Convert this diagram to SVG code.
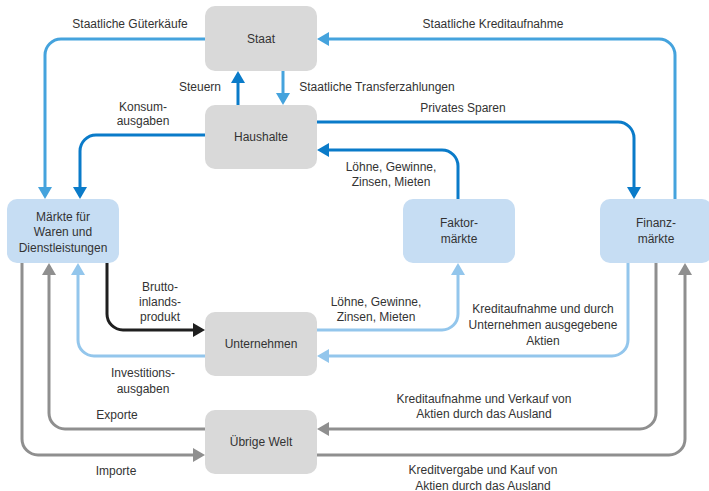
<svg xmlns="http://www.w3.org/2000/svg" width="709" height="491" viewBox="0 0 709 491">
<style>
text{font-family:"Liberation Sans",Arial,sans-serif;font-size:12px;fill:#333;text-anchor:middle}
.g{fill:#d9d9d9}
.b{fill:#c6ddf3}
.c{fill:none;stroke-width:3}
.lb{stroke:#45a3dd}
.db{stroke:#0a7bc9}
.pb{stroke:#93c6ec}
.gr{stroke:#8f8f8f}
.bk{stroke:#1f1f1f}
</style>
<defs>
<marker id="mlb" viewBox="0 0 12 14" markerWidth="12" markerHeight="14" refX="9" refY="7" orient="auto" markerUnits="userSpaceOnUse"><path d="M0,0L12,7L0,14z" fill="#45a3dd"/></marker>
<marker id="mdb" viewBox="0 0 12 14" markerWidth="12" markerHeight="14" refX="9" refY="7" orient="auto" markerUnits="userSpaceOnUse"><path d="M0,0L12,7L0,14z" fill="#0a7bc9"/></marker>
<marker id="mpb" viewBox="0 0 12 14" markerWidth="12" markerHeight="14" refX="9" refY="7" orient="auto" markerUnits="userSpaceOnUse"><path d="M0,0L12,7L0,14z" fill="#93c6ec"/></marker>
<marker id="mgr" viewBox="0 0 12 14" markerWidth="12" markerHeight="14" refX="9" refY="7" orient="auto" markerUnits="userSpaceOnUse"><path d="M0,0L12,7L0,14z" fill="#8f8f8f"/></marker>
<marker id="mbk" viewBox="0 0 12 14" markerWidth="12" markerHeight="14" refX="9" refY="7" orient="auto" markerUnits="userSpaceOnUse"><path d="M0,0L12,7L0,14z" fill="#1f1f1f"/></marker>
</defs>
<g id="connectors">
<path class="c lb" d="M205,39H61A16,16 0 0 0 45,55V196" marker-end="url(#mlb)"/>
<path class="c db" d="M205,135H96A16,16 0 0 0 80,151V196" marker-end="url(#mdb)"/>
<path class="c db" d="M238,105V74" marker-end="url(#mdb)"/>
<path class="c lb" d="M283,71V102" marker-end="url(#mlb)"/>
<path class="c lb" d="M675,199V55A16,16 0 0 0 659,39H320" marker-end="url(#mlb)"/>
<path class="c db" d="M317,122H618A16,16 0 0 1 634,138V196" marker-end="url(#mdb)"/>
<path class="c db" d="M458,199V166A16,16 0 0 0 442,150H320" marker-end="url(#mdb)"/>
<path class="c bk" d="M107,263V314A16,16 0 0 0 123,330H202" marker-end="url(#mbk)"/>
<path class="c pb" d="M205,356H94A16,16 0 0 1 78,340V266" marker-end="url(#mpb)"/>
<path class="c pb" d="M317,330H442A16,16 0 0 0 458,314V266" marker-end="url(#mpb)"/>
<path class="c pb" d="M628,263V340A16,16 0 0 1 612,356H320" marker-end="url(#mpb)"/>
<path class="c gr" d="M205,429H65A16,16 0 0 1 49,413V266" marker-end="url(#mgr)"/>
<path class="c gr" d="M22,263V439A16,16 0 0 0 38,455H202" marker-end="url(#mgr)"/>
<path class="c gr" d="M656,263V413A16,16 0 0 1 640,429H320" marker-end="url(#mgr)"/>
<path class="c gr" d="M317,455H669A16,16 0 0 0 685,439V266" marker-end="url(#mgr)"/>
</g>
<g id="labels">
<text x="130" y="28">Staatliche Güterkäufe</text>
<text x="493" y="28">Staatliche Kreditaufnahme</text>
<text x="200" y="91">Steuern</text>
<text x="377" y="91">Staatliche Transferzahlungen</text>
<text x="143" y="111">Konsum-</text>
<text x="143" y="125">ausgaben</text>
<text x="463" y="112">Privates Sparen</text>
<text x="391" y="171">Löhne, Gewinne,</text>
<text x="391" y="186">Zinsen, Mieten</text>
<text x="160" y="291">Brutto-</text>
<text x="160" y="306">inlands-</text>
<text x="160" y="321">produkt</text>
<text x="376" y="306">Löhne, Gewinne,</text>
<text x="376" y="321">Zinsen, Mieten</text>
<text x="543" y="313">Kreditaufnahme und durch</text>
<text x="543" y="329">Unternehmen ausgegebene</text>
<text x="543" y="345">Aktien</text>
<text x="143" y="377">Investitions-</text>
<text x="143" y="393">ausgaben</text>
<text x="117" y="419">Exporte</text>
<text x="116" y="475">Importe</text>
<text x="484" y="403">Kreditaufnahme und Verkauf von</text>
<text x="484" y="418">Aktien durch das Ausland</text>
<text x="483" y="474">Kreditvergabe und Kauf von</text>
<text x="483" y="489.5">Aktien durch das Ausland</text>
</g>
<g id="staat"><rect class="g" x="205" y="6" width="112" height="65" rx="10"/><text x="261" y="43">Staat</text></g>
<g id="haushalte"><rect class="g" x="205" y="105" width="112" height="64" rx="10"/><text x="261" y="141">Haushalte</text></g>
<g id="maerkte"><rect class="b" x="7" y="199" width="112" height="64" rx="10"/><text x="63" y="221">Märkte für</text><text x="63" y="236">Waren und</text><text x="63" y="252">Dienstleistungen</text></g>
<g id="faktormaerkte"><rect class="b" x="403" y="199" width="112" height="64" rx="10"/><text x="459" y="227">Faktor-</text><text x="459" y="243">märkte</text></g>
<g id="finanzmaerkte"><rect class="b" x="600" y="199" width="112" height="64" rx="10"/><text x="656" y="227">Finanz-</text><text x="656" y="243">märkte</text></g>
<g id="unternehmen"><rect class="g" x="205" y="312" width="112" height="64" rx="10"/><text x="261" y="348">Unternehmen</text></g>
<g id="welt"><rect class="g" x="205" y="410" width="112" height="64" rx="10"/><text x="261" y="446">Übrige Welt</text></g>
</svg>
